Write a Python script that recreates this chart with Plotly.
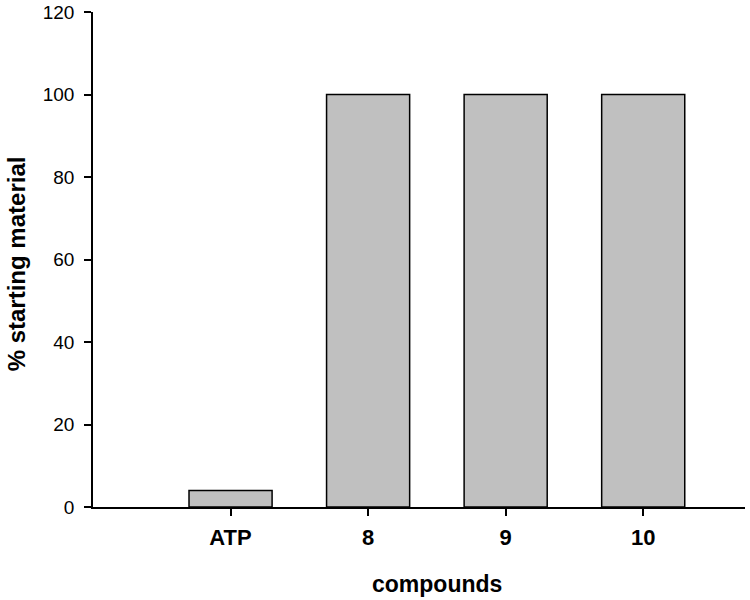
import plotly.graph_objects as go

categories = ["ATP", "8", "9", "10"]
values = [4, 100, 100, 100]
y_ticks = [0, 20, 40, 60, 80, 100, 120]

FONT = "Liberation Sans, Arial, sans-serif"

fig = go.Figure()
fig.add_trace(go.Bar(
    x=categories,
    y=values,
    width=0.604,
    marker=dict(color="#c0c0c0", line=dict(color="black", width=1.5)),
))

fig.update_layout(
    width=750,
    height=600,
    margin=dict(l=93, r=5, t=12, b=93, autoexpand=False),
    paper_bgcolor="white",
    plot_bgcolor="white",
    showlegend=False,
    font=dict(family=FONT, color="black"),
    xaxis=dict(
        type="category",
        range=[-1, 3.74],
        automargin=False,
        showline=True,
        linecolor="black",
        linewidth=1.5,
        ticks="outside",
        ticklen=7,
        tickwidth=1.5,
        tickcolor="black",
        showgrid=False,
        zeroline=False,
        tickfont=dict(family=FONT, size=22, color="black", weight="bold"),
        ticklabelstandoff=3,
    ),
    yaxis=dict(
        range=[0, 120],
        tickvals=y_ticks,
        automargin=False,
        showline=True,
        linecolor="black",
        linewidth=1.5,
        ticks="outside",
        ticklen=7,
        tickwidth=1.5,
        tickcolor="black",
        showgrid=False,
        zeroline=False,
        tickfont=dict(family=FONT, size=19, color="black"),
        ticklabelstandoff=6,
        ticklabeloverflow="allow",
    ),
    annotations=[
        dict(
            text="<b>compounds</b>",
            x=1.5, xref="x",
            y=-0.1556, yref="paper",
            xanchor="center", yanchor="middle",
            showarrow=False,
            font=dict(family=FONT, size=23, color="black"),
        ),
        dict(
            text="<b>% starting material</b>",
            x=-0.116, xref="paper",
            y=0.491, yref="paper",
            xanchor="center", yanchor="middle",
            textangle=-90,
            showarrow=False,
            font=dict(family=FONT, size=24, color="black"),
        ),
    ],
)

# remove the page's default 8px body margin so the figure fills the window
fig.write_html(
    "out.html",
    config={"displayModeBar": False},
    post_script="document.body.style.margin='0';",
)
